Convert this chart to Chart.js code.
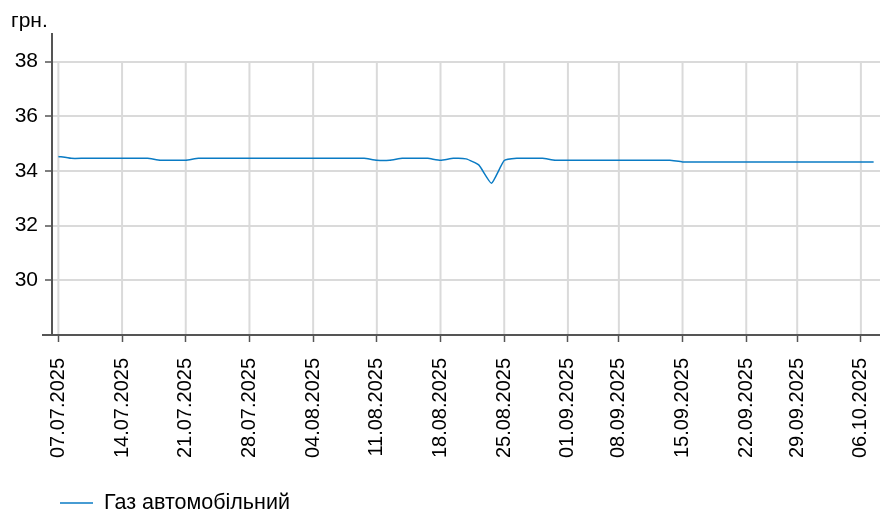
<!DOCTYPE html>
<html>
<head>
<meta charset="utf-8">
<script src="https://cdn.jsdelivr.net/npm/chart.js@4"></script>
<style>
  html, body { margin: 0; padding: 0; background: #fff; }
  .chart-container { width: 886px; height: 528px; position: relative; }
</style>
</head>
<body>
<div class="chart-container">
  <canvas id="chart"></canvas>
</div>
<script>
// робочі дні (без вихідних), два дні без даних
const dates = [
  '07.07.2025', '08.07.2025', '09.07.2025', '10.07.2025', '11.07.2025',
  '14.07.2025', '15.07.2025', '16.07.2025', '17.07.2025', '18.07.2025',
  '21.07.2025', '22.07.2025', '23.07.2025', '24.07.2025', '25.07.2025',
  '28.07.2025', '29.07.2025', '30.07.2025', '31.07.2025', '01.08.2025',
  '04.08.2025', '05.08.2025', '06.08.2025', '07.08.2025', '08.08.2025',
  '11.08.2025', '12.08.2025', '13.08.2025', '14.08.2025', '15.08.2025',
  '18.08.2025', '19.08.2025', '20.08.2025', '21.08.2025', '22.08.2025',
  '25.08.2025', '26.08.2025', '27.08.2025', '28.08.2025', '29.08.2025',
  '01.09.2025', '02.09.2025', '03.09.2025', '04.09.2025',
  '08.09.2025', '09.09.2025', '10.09.2025', '11.09.2025', '12.09.2025',
  '15.09.2025', '16.09.2025', '17.09.2025', '18.09.2025', '19.09.2025',
  '22.09.2025', '23.09.2025', '24.09.2025', '25.09.2025',
  '29.09.2025', '30.09.2025', '01.10.2025', '02.10.2025', '03.10.2025',
  '06.10.2025', '07.10.2025'
];

const gasPrices = [
  34.53, 34.46, 34.46, 34.46, 34.46, 34.46, 34.46, 34.46, 34.39, 34.39,
  34.39, 34.46, 34.46, 34.46, 34.46, 34.46, 34.46, 34.46, 34.46, 34.46,
  34.46, 34.46, 34.46, 34.46, 34.46, 34.39, 34.39, 34.46, 34.46, 34.46,
  34.39, 34.46, 34.44, 34.22, 33.55, 34.38, 34.46, 34.46, 34.46, 34.39,
  34.39, 34.39, 34.39, 34.39, 34.39, 34.39, 34.39, 34.39, 34.39, 34.33,
  34.33, 34.33, 34.33, 34.33, 34.33, 34.33, 34.33, 34.33, 34.33, 34.33,
  34.33, 34.33, 34.33, 34.33, 34.33
];

const xTickLabels = [
  '07.07.2025', '14.07.2025', '21.07.2025', '28.07.2025', '04.08.2025',
  '11.08.2025', '18.08.2025', '25.08.2025', '01.09.2025', '08.09.2025',
  '15.09.2025', '22.09.2025', '29.09.2025', '06.10.2025'
];
const yTicks = [30, 32, 34, 36, 38];

const seriesLabel = 'Газ автомобільний';
const unitLabel = 'грн.';

const FONT = 'Liberation Sans, Arial, sans-serif';
const LINE_COLOR = '#0a7bc4';
const GRID_COLOR = '#dadada';
const AXIS_COLOR = '#555555';

// вертикальна сітка лише від верхньої лінії 38 до осі
const verticalGrid = {
  id: 'verticalGrid',
  beforeDatasetsDraw(chart) {
    const { ctx, chartArea, scales } = chart;
    const top = scales.y.getPixelForValue(yTicks[yTicks.length - 1]);
    ctx.save();
    ctx.strokeStyle = GRID_COLOR;
    ctx.lineWidth = 2;
    xTickLabels.forEach(label => {
      const x = scales.x.getPixelForValue(dates.indexOf(label));
      ctx.beginPath();
      ctx.moveTo(x, top);
      ctx.lineTo(x, chartArea.bottom);
      ctx.stroke();
    });
    ctx.restore();
  },
  afterDatasetsDraw(chart) {
    const { ctx, chartArea } = chart;
    ctx.save();
    ctx.strokeStyle = AXIS_COLOR;
    ctx.lineWidth = 2;
    ctx.beginPath();
    ctx.moveTo(chartArea.left - 10, chartArea.bottom);
    ctx.lineTo(chartArea.right, chartArea.bottom);
    ctx.stroke();
    ctx.restore();
  }
};

const bottomLegend = {
  id: 'bottomLegend',
  afterDraw(chart) {
    const { ctx } = chart;
    const ds = chart.data.datasets[0];
    const y = 503;
    ctx.save();
    ctx.strokeStyle = ds.borderColor;
    ctx.lineWidth = 1.5;
    ctx.beginPath();
    ctx.moveTo(60, y);
    ctx.lineTo(93, y);
    ctx.stroke();
    ctx.fillStyle = '#000';
    ctx.font = '21.5px ' + FONT;
    ctx.textBaseline = 'middle';
    ctx.fillText(ds.label, 104, y);
    ctx.restore();
  }
};

const ctx = document.getElementById('chart');
new Chart(ctx, {
  type: 'line',
  data: {
    labels: dates,
    datasets: [{
      label: seriesLabel,
      data: gasPrices,
      borderColor: LINE_COLOR,
      borderWidth: 1.5,
      pointRadius: 0,
      tension: 0.15
    }]
  },
  options: {
    responsive: true,
    maintainAspectRatio: false,
    animation: false,
    layout: { padding: { left: 11, right: 6, top: 0, bottom: 60 } },
    scales: {
      x: {
        type: 'category',
        offset: true,
        grid: {
          offset: false,
          drawOnChartArea: false,
          tickColor: AXIS_COLOR,
          tickLength: 7,
          tickWidth: 1.5
        },
        border: { display: false },
        ticks: {
          autoSkip: false,
          minRotation: 90,
          maxRotation: 90,
          padding: 16,
          color: '#000',
          font: { family: FONT, size: 20 },
          callback: function(value) {
            const label = dates[value];
            return xTickLabels.includes(label) ? label : null;
          }
        },
        afterFit: function(scale) {
          scale.height = 133;
          scale.paddingLeft = 0;
          scale.paddingRight = 0;
        }
      },
      y: {
        min: 28,
        max: 39,
        afterBuildTicks: function(axis) {
          axis.ticks = yTicks.map(v => ({ value: v }));
        },
        grid: {
          color: GRID_COLOR,
          lineWidth: 2,
          tickColor: AXIS_COLOR,
          tickLength: 7,
          tickWidth: 1.5
        },
        border: { display: true, color: AXIS_COLOR, width: 2 },
        ticks: {
          padding: 7,
          color: '#000',
          font: { family: FONT, size: 21 }
        },
        afterFit: function(scale) { scale.width = 41; }
      }
    },
    plugins: {
      legend: { display: false },
      tooltip: { enabled: false },
      title: {
        display: true,
        text: unitLabel,
        align: 'start',
        color: '#000',
        font: { family: FONT, size: 21, weight: 'normal' },
        padding: { top: 9, bottom: 0 }
      }
    }
  },
  plugins: [verticalGrid, bottomLegend]
});
</script>
</body>
</html>
